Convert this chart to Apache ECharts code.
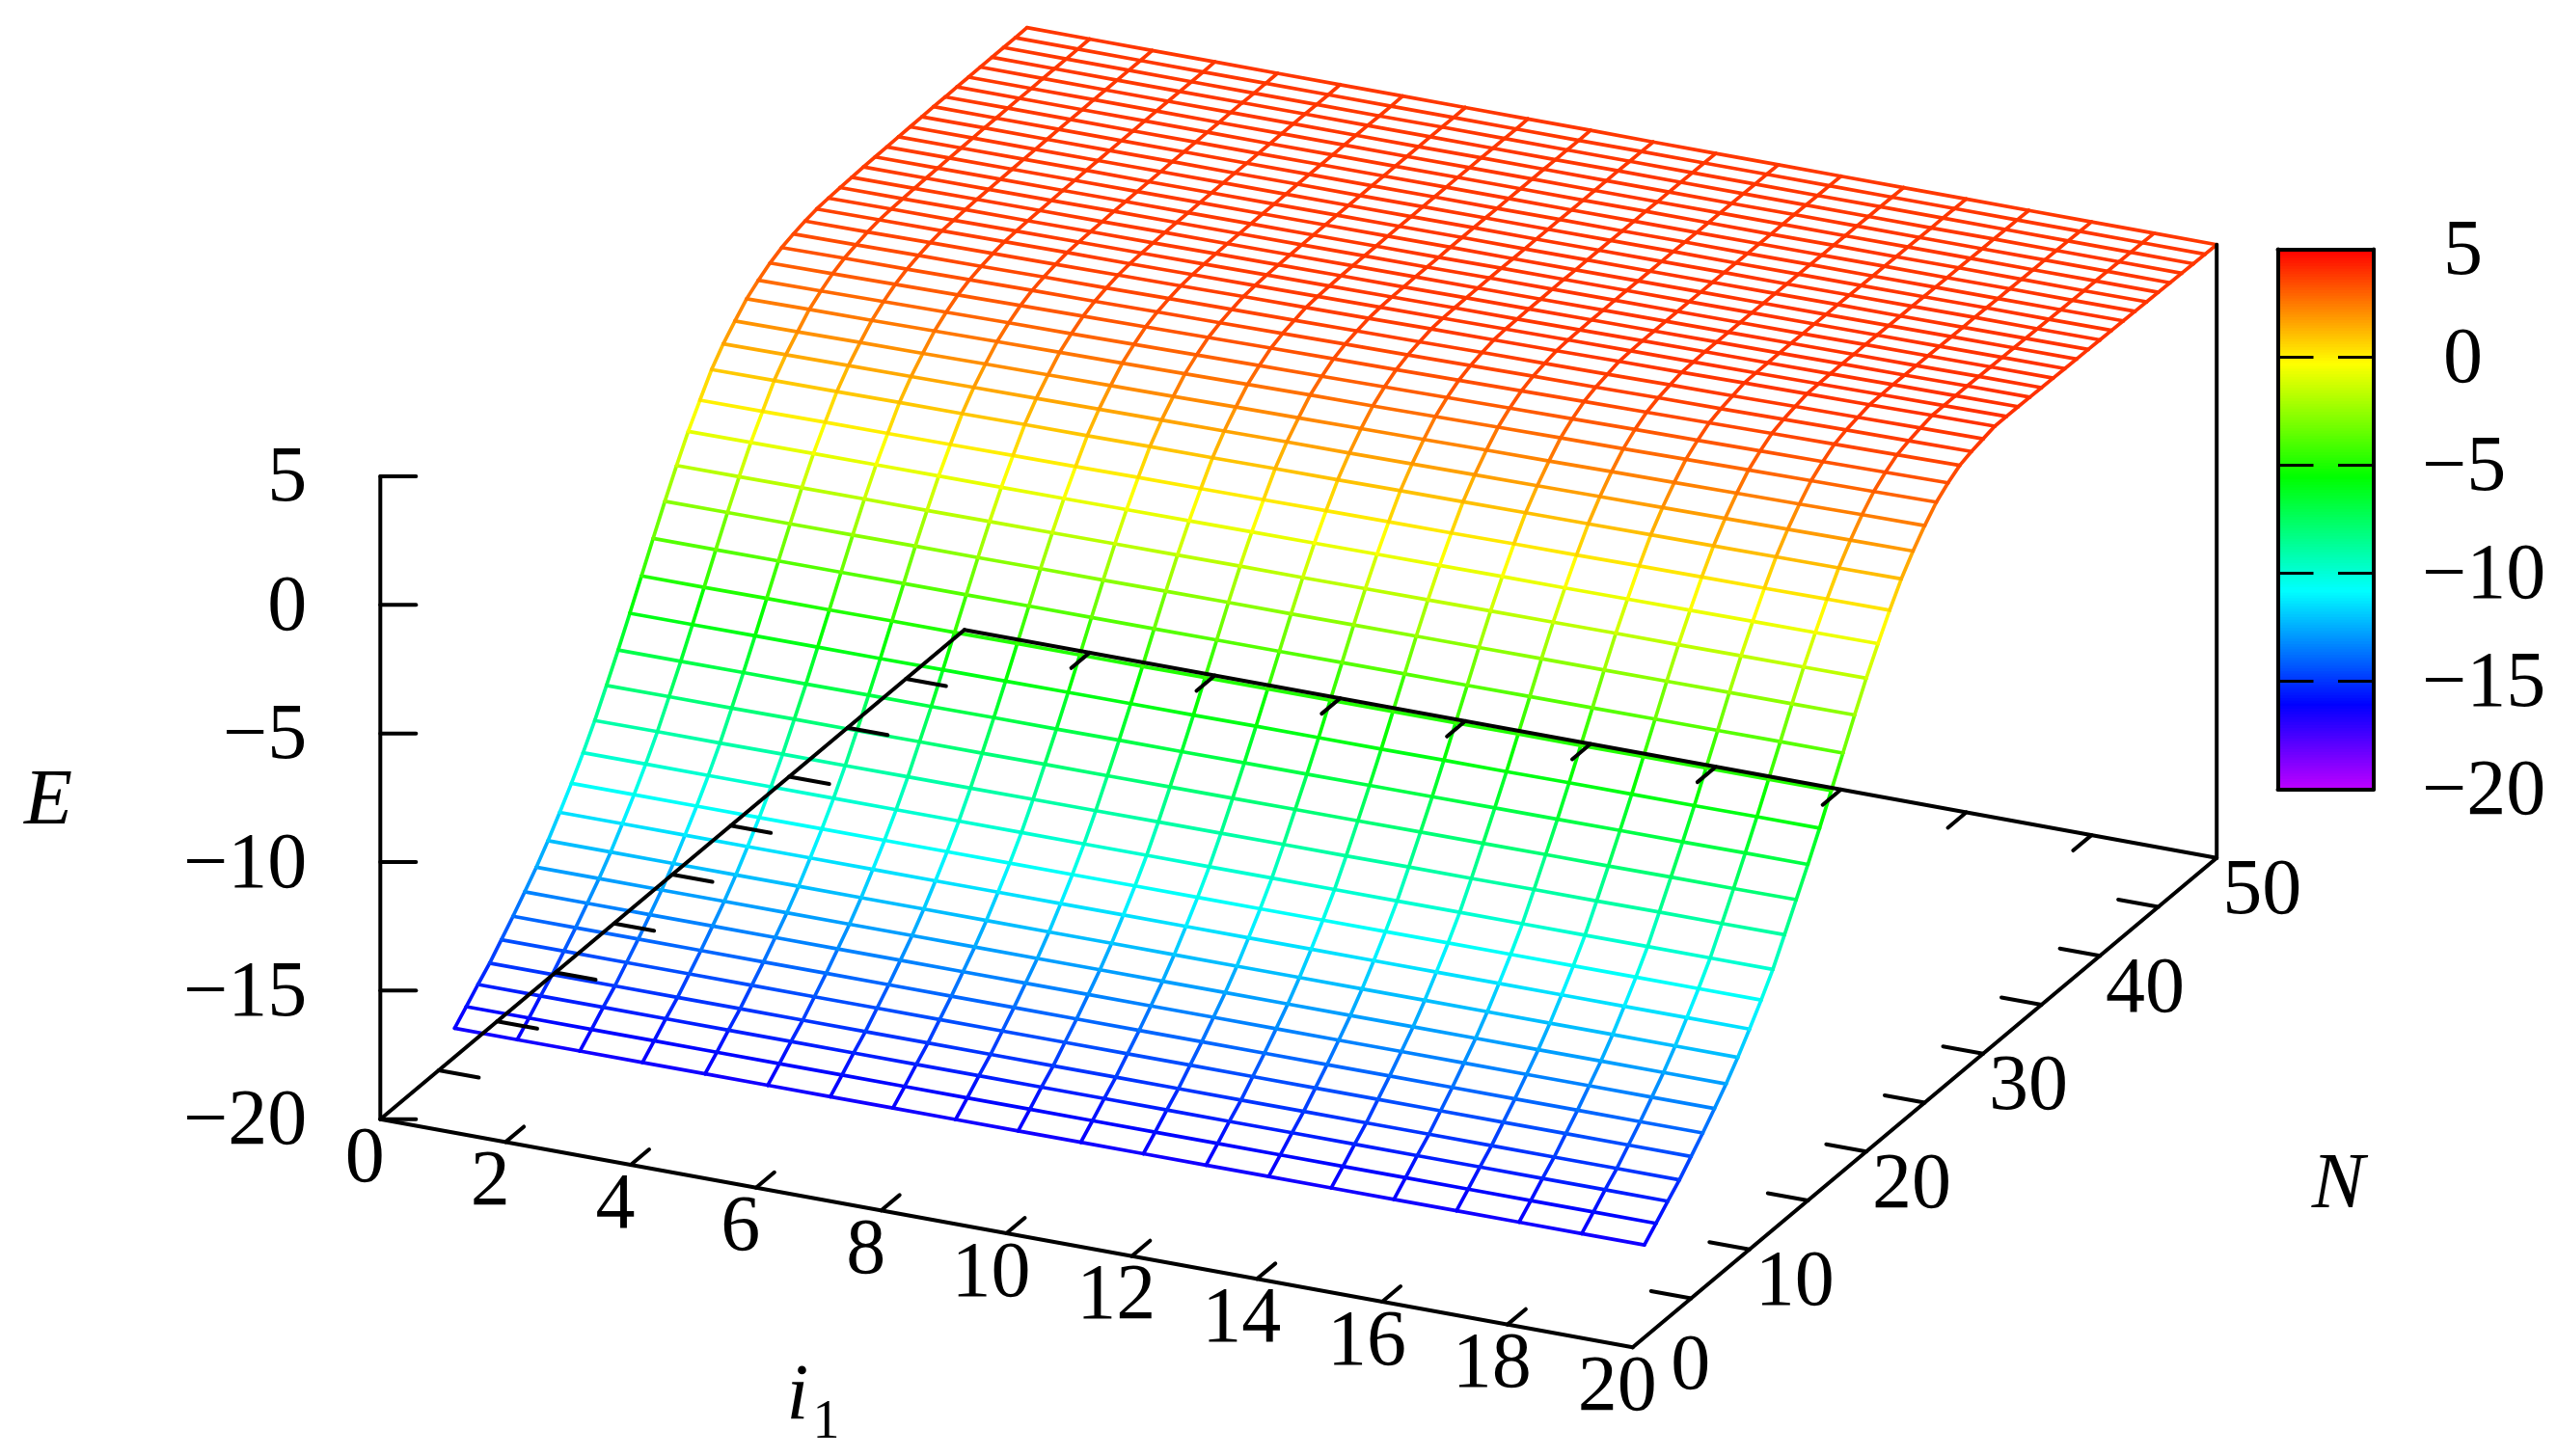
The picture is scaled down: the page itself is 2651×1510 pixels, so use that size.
<!DOCTYPE html>
<html><head><meta charset="utf-8">
<style>html,body{margin:0;padding:0;background:#fff}#c{width:2651px;height:1510px}</style>
<script src="https://cdn.jsdelivr.net/npm/echarts@6/dist/echarts.min.js"></script>
</head><body><div id="c"></div>
<script>
// ---------- values ----------
const iValues = [1,2,3,4,5,6,7,8,9,10,11,12,13,14,15,16,17,18,19,20];
const nValues = [1,2,3,4,5,6,7,8,9,10,11,12,13,14,15,16,17,18,19,20,21,22,23,24,25,26,27,28,29,30,31,32,33,34,35,36,37,38,39,40,41,42,43,44,45,46,47,48,49,50];
// one row per N, one column per i1
const surfaceE = [
[-16.40,-16.40,-16.40,-16.40,-16.40,-16.40,-16.40,-16.40,-16.40,-16.40,-16.40,-16.40,-16.40,-16.40,-16.40,-16.40,-16.40,-16.40,-16.40,-16.40],
[-15.94,-15.94,-15.94,-15.94,-15.94,-15.94,-15.94,-15.94,-15.94,-15.94,-15.94,-15.94,-15.94,-15.94,-15.94,-15.94,-15.94,-15.94,-15.94,-15.94],
[-15.46,-15.46,-15.46,-15.46,-15.46,-15.46,-15.46,-15.46,-15.46,-15.46,-15.46,-15.46,-15.46,-15.46,-15.46,-15.46,-15.46,-15.46,-15.46,-15.46],
[-15.01,-15.01,-15.01,-15.01,-15.01,-15.01,-15.01,-15.01,-15.01,-15.01,-15.01,-15.01,-15.01,-15.01,-15.01,-15.01,-15.01,-15.01,-15.01,-15.01],
[-14.48,-14.48,-14.48,-14.48,-14.48,-14.48,-14.48,-14.48,-14.48,-14.48,-14.48,-14.48,-14.48,-14.48,-14.48,-14.48,-14.48,-14.48,-14.48,-14.48],
[-13.95,-13.95,-13.95,-13.95,-13.95,-13.95,-13.95,-13.95,-13.95,-13.95,-13.95,-13.95,-13.95,-13.95,-13.95,-13.95,-13.95,-13.95,-13.95,-13.95],
[-13.38,-13.38,-13.38,-13.38,-13.38,-13.38,-13.38,-13.38,-13.38,-13.38,-13.38,-13.38,-13.38,-13.38,-13.38,-13.38,-13.38,-13.38,-13.38,-13.38],
[-12.80,-12.80,-12.80,-12.80,-12.80,-12.80,-12.80,-12.80,-12.80,-12.80,-12.80,-12.80,-12.80,-12.80,-12.80,-12.80,-12.80,-12.80,-12.80,-12.80],
[-12.15,-12.15,-12.15,-12.15,-12.15,-12.15,-12.15,-12.15,-12.15,-12.15,-12.15,-12.15,-12.15,-12.15,-12.15,-12.15,-12.15,-12.15,-12.15,-12.15],
[-11.43,-11.43,-11.43,-11.43,-11.43,-11.43,-11.43,-11.43,-11.43,-11.43,-11.43,-11.43,-11.43,-11.43,-11.43,-11.43,-11.43,-11.43,-11.43,-11.43],
[-10.68,-10.68,-10.68,-10.68,-10.68,-10.68,-10.68,-10.68,-10.68,-10.68,-10.68,-10.68,-10.68,-10.68,-10.68,-10.68,-10.68,-10.68,-10.68,-10.68],
[-9.87,-9.87,-9.87,-9.87,-9.87,-9.87,-9.87,-9.87,-9.87,-9.87,-9.87,-9.87,-9.87,-9.87,-9.87,-9.87,-9.87,-9.87,-9.87,-9.87],
[-9.00,-8.99,-8.99,-8.98,-8.98,-8.97,-8.97,-8.96,-8.96,-8.95,-8.95,-8.94,-8.94,-8.93,-8.93,-8.92,-8.92,-8.91,-8.91,-8.90],
[-8.02,-8.01,-8.01,-8.00,-8.00,-7.99,-7.99,-7.98,-7.98,-7.97,-7.97,-7.96,-7.96,-7.95,-7.95,-7.94,-7.94,-7.93,-7.93,-7.92],
[-7.02,-7.02,-7.01,-7.01,-7.00,-7.00,-6.99,-6.99,-6.98,-6.98,-6.97,-6.97,-6.96,-6.96,-6.95,-6.95,-6.94,-6.94,-6.93,-6.93],
[-5.97,-5.97,-5.96,-5.96,-5.96,-5.95,-5.95,-5.94,-5.94,-5.94,-5.93,-5.93,-5.93,-5.92,-5.92,-5.91,-5.91,-5.91,-5.90,-5.90],
[-4.90,-4.90,-4.89,-4.89,-4.88,-4.88,-4.87,-4.87,-4.87,-4.86,-4.86,-4.85,-4.85,-4.85,-4.84,-4.84,-4.83,-4.83,-4.82,-4.82],
[-3.82,-3.82,-3.81,-3.81,-3.80,-3.80,-3.79,-3.79,-3.79,-3.78,-3.78,-3.77,-3.77,-3.77,-3.76,-3.76,-3.75,-3.75,-3.74,-3.74],
[-2.76,-2.75,-2.75,-2.74,-2.73,-2.73,-2.72,-2.72,-2.71,-2.70,-2.70,-2.69,-2.68,-2.68,-2.67,-2.67,-2.66,-2.65,-2.65,-2.64],
[-1.75,-1.74,-1.73,-1.72,-1.72,-1.71,-1.70,-1.69,-1.68,-1.67,-1.67,-1.66,-1.65,-1.64,-1.63,-1.62,-1.62,-1.61,-1.60,-1.59],
[-0.80,-0.79,-0.78,-0.77,-0.76,-0.76,-0.75,-0.74,-0.73,-0.72,-0.71,-0.70,-0.69,-0.68,-0.68,-0.67,-0.66,-0.65,-0.64,-0.63],
[0.03,0.04,0.06,0.07,0.08,0.10,0.11,0.13,0.14,0.15,0.17,0.18,0.19,0.21,0.22,0.24,0.25,0.26,0.28,0.29],
[0.84,0.86,0.87,0.89,0.90,0.92,0.93,0.95,0.96,0.98,0.99,1.01,1.02,1.04,1.05,1.07,1.08,1.10,1.11,1.13],
[1.46,1.48,1.50,1.52,1.54,1.56,1.58,1.60,1.62,1.64,1.65,1.67,1.69,1.71,1.73,1.75,1.77,1.79,1.81,1.83],
[1.97,1.99,2.02,2.04,2.07,2.09,2.12,2.14,2.17,2.19,2.22,2.24,2.27,2.29,2.32,2.34,2.37,2.39,2.42,2.44],
[2.45,2.48,2.50,2.53,2.56,2.59,2.61,2.64,2.67,2.70,2.72,2.75,2.78,2.81,2.83,2.86,2.89,2.92,2.94,2.97],
[2.79,2.82,2.85,2.88,2.91,2.93,2.96,2.99,3.02,3.05,3.08,3.11,3.14,3.17,3.20,3.22,3.25,3.28,3.31,3.34],
[3.08,3.11,3.14,3.17,3.20,3.23,3.26,3.29,3.32,3.35,3.37,3.40,3.43,3.46,3.49,3.52,3.55,3.58,3.61,3.64],
[3.30,3.33,3.35,3.38,3.41,3.43,3.46,3.48,3.51,3.54,3.56,3.59,3.62,3.64,3.67,3.69,3.72,3.75,3.77,3.80],
[3.45,3.47,3.50,3.52,3.55,3.57,3.60,3.62,3.64,3.67,3.69,3.72,3.74,3.76,3.79,3.81,3.84,3.86,3.89,3.91],
[3.57,3.59,3.62,3.64,3.66,3.69,3.71,3.74,3.76,3.78,3.81,3.83,3.85,3.88,3.90,3.93,3.95,3.97,4.00,4.02],
[3.66,3.68,3.70,3.72,3.74,3.75,3.77,3.79,3.81,3.83,3.85,3.87,3.89,3.91,3.92,3.94,3.96,3.98,4.00,4.02],
[3.70,3.72,3.73,3.75,3.77,3.78,3.80,3.82,3.83,3.85,3.87,3.88,3.90,3.92,3.94,3.95,3.97,3.99,4.00,4.02],
[3.73,3.74,3.76,3.77,3.79,3.80,3.82,3.83,3.85,3.86,3.88,3.89,3.91,3.92,3.94,3.95,3.97,3.98,4.00,4.01],
[3.75,3.76,3.78,3.79,3.80,3.82,3.83,3.84,3.86,3.87,3.88,3.89,3.91,3.92,3.93,3.95,3.96,3.97,3.99,4.00],
[3.77,3.78,3.79,3.80,3.82,3.83,3.84,3.85,3.86,3.87,3.89,3.90,3.91,3.92,3.93,3.94,3.96,3.97,3.98,3.99],
[3.78,3.79,3.80,3.81,3.82,3.83,3.84,3.85,3.86,3.87,3.89,3.90,3.91,3.92,3.93,3.94,3.95,3.96,3.97,3.98],
[3.79,3.80,3.81,3.82,3.83,3.84,3.85,3.86,3.87,3.88,3.88,3.89,3.90,3.91,3.92,3.93,3.94,3.95,3.96,3.97],
[3.80,3.81,3.82,3.83,3.83,3.84,3.85,3.86,3.87,3.88,3.88,3.89,3.90,3.91,3.92,3.93,3.93,3.94,3.95,3.96],
[3.81,3.82,3.82,3.83,3.84,3.85,3.85,3.86,3.87,3.88,3.88,3.89,3.90,3.91,3.91,3.92,3.93,3.94,3.94,3.95],
[3.82,3.83,3.83,3.84,3.85,3.85,3.86,3.86,3.87,3.88,3.88,3.89,3.90,3.90,3.91,3.91,3.92,3.93,3.93,3.94],
[3.83,3.83,3.84,3.84,3.85,3.85,3.86,3.86,3.87,3.87,3.88,3.88,3.89,3.89,3.90,3.90,3.91,3.91,3.92,3.93],
[3.83,3.84,3.84,3.84,3.85,3.85,3.86,3.86,3.87,3.87,3.87,3.88,3.88,3.89,3.89,3.90,3.90,3.91,3.91,3.92],
[3.84,3.84,3.84,3.85,3.85,3.85,3.86,3.86,3.87,3.87,3.87,3.88,3.88,3.88,3.89,3.89,3.90,3.90,3.90,3.91],
[3.84,3.84,3.85,3.85,3.85,3.86,3.86,3.86,3.87,3.87,3.87,3.87,3.88,3.88,3.88,3.89,3.89,3.89,3.90,3.90],
[3.85,3.85,3.85,3.85,3.86,3.86,3.86,3.86,3.87,3.87,3.87,3.87,3.87,3.88,3.88,3.88,3.88,3.89,3.89,3.89],
[3.85,3.85,3.85,3.85,3.86,3.86,3.86,3.86,3.86,3.86,3.87,3.87,3.87,3.87,3.87,3.87,3.88,3.88,3.88,3.88],
[3.85,3.85,3.85,3.85,3.85,3.85,3.85,3.86,3.86,3.86,3.86,3.86,3.86,3.86,3.87,3.87,3.87,3.87,3.87,3.87],
[3.85,3.85,3.85,3.85,3.85,3.85,3.85,3.85,3.85,3.85,3.86,3.86,3.86,3.86,3.86,3.86,3.86,3.86,3.86,3.86],
[3.86,3.86,3.86,3.86,3.86,3.86,3.86,3.86,3.86,3.86,3.85,3.85,3.85,3.85,3.85,3.85,3.85,3.85,3.85,3.85]
];
const iTicks = [0,2,4,6,8,10,12,14,16,18,20];
const nTicksLabelled = [0,10,20,30,40,50];
const nTicksAll = [5,10,15,20,25,30,35,40,45];
const eTicks = [-20,-15,-10,-5,0,5];
const paletteStops = ['#bf00ff','#8000ff','#4000ff','#0000ff','#0040ff','#0080ff','#00bfff','#00ffff','#00ffbf','#00ff80','#00ff40','#00ff00','#40ff00','#80ff00','#bfff00','#ffff00','#ffbf00','#ff8000','#ff4000','#ff0000'];
const eRange = [-20, 5];

// ---------- view of the 3D box on the page plane ----------
const view = {ox:394.3, oy:1160.7, ix:64.92, iy:11.83, nx:12.11, ny:-10.15, ez:26.67};
function project(i, n, e) {
  return [view.ox + view.ix*i + view.nx*n, view.oy + view.iy*i + view.ny*n - view.ez*(e - eRange[0])];
}
const FONT = '"Liberation Serif","Times New Roman",serif';
const FS = 82;
const TEXT_DY = 4;
const minus = v => String(v).replace('-', '\u2212');

// surface wires: [x1,y1,E,x2,y2]
const wires = [];
function wire(i1,n1,e1,i2,n2,e2){
  const a = project(i1,n1,e1), b = project(i2,n2,e2);
  wires.push([a[0],a[1],(e1+e2)/2,b[0],b[1]]);
}
nValues.forEach((n,r)=>iValues.forEach((i,c)=>{
  if (c+1<iValues.length) wire(i,n,surfaceE[r][c],iValues[c+1],n,surfaceE[r][c+1]);
  if (r+1<nValues.length) wire(i,n,surfaceE[r][c],i,nValues[r+1],surfaceE[r+1][c]);
}));

// box edges and ticks: [x1,y1,x2,y2]
const boxLines = [];
function seg(a,b){ boxLines.push([a[0],a[1],b[0],b[1]]); }
const lo = eRange[0], hi = eRange[1];
seg(project(0,0,lo),project(20,0,lo));
seg(project(20,0,lo),project(20,50,lo));
seg(project(20,50,lo),project(0,50,lo));
seg(project(0,50,lo),project(0,0,lo));
seg(project(0,0,lo),project(0,0,hi));
seg(project(20,50,lo),project(20,50,surfaceE[49][19]));
const NTICK = 1.57, ITICK = 0.64, ETICK = 37;
iTicks.slice(1,-1).forEach(i=>{
  seg(project(i,0,lo),project(i,NTICK,lo));
  seg(project(i,50,lo),project(i,50-NTICK,lo));
});
nTicksAll.forEach(n=>{
  seg(project(0,n,lo),project(ITICK,n,lo));
  seg(project(20,n,lo),project(20-ITICK,n,lo));
});
eTicks.forEach(e=>{
  const p = project(0,0,e);
  seg(p,[p[0]+ETICK,p[1]]);
});

// text labels placed on the plane
const labels = [];
iTicks.forEach(i=>{
  const p = project(i,0,lo);
  labels.push({t:String(i),x:p[0]-16,y:p[1]+39,a:'center'});
});
nTicksLabelled.forEach(n=>{
  const p = project(20,n,lo);
  if (n===0) labels.push({t:'0',x:p[0]+60,y:p[1]+17,a:'center'});
  else labels.push({t:String(n),x:p[0]+47,y:p[1]+32,a:'center'});
});
eTicks.forEach(e=>{
  const p = project(0,0,e);
  labels.push({t:minus(e),x:p[0]-76,y:p[1],a:'right'});
});
labels.push({t:'E',x:50,y:828,a:'center',it:true});
labels.push({t:'N',x:2424,y:1226,a:'center',it:true});
labels.push({t:'{i|i}{s|1}',x:843,y:1445,a:'center',rich:{
  i:{fontFamily:FONT,fontStyle:'italic',fontSize:FS,fill:'#000',lineHeight:100,verticalAlign:'middle'},
  s:{fontFamily:FONT,fontSize:56,fill:'#000',lineHeight:100,padding:[54,0,0,4],verticalAlign:'middle'}}});

// colour bar ramp: [0, level, level]
const ramp = [];
for (let k=0;k<200;k++){ const v = eRange[0]+k*0.125; ramp.push([0,v,v+0.0625]); }

const bar = {left:2361.5, top:258.5, width:99.5, height:560};
const barAxis = {type:'value',min:eRange[0],max:eRange[1],interval:5,gridIndex:1,z:6,
  axisLine:{show:true,onZero:false,lineStyle:{color:'#000',width:4}},
  splitLine:{show:false}};

const option = {
  backgroundColor:'#fff',
  animation:false,
  grid:[
    {left:0,top:0,width:2651,height:1510,containLabel:false},
    {left:bar.left,top:bar.top,width:bar.width,height:bar.height,containLabel:false}
  ],
  xAxis:[
    {type:'value',min:0,max:2651,gridIndex:0,show:false},
    {type:'value',min:0,max:1,gridIndex:1,position:'bottom',z:6,axisLine:{show:true,onZero:false,lineStyle:{color:'#000',width:4}},axisTick:{show:false},axisLabel:{show:false},splitLine:{show:false}},
    {type:'value',min:0,max:1,gridIndex:1,position:'top',z:6,axisLine:{show:true,onZero:false,lineStyle:{color:'#000',width:4}},axisTick:{show:false},axisLabel:{show:false},splitLine:{show:false}}
  ],
  yAxis:[
    {type:'value',min:0,max:1510,inverse:true,gridIndex:0,show:false},
    Object.assign({},barAxis,{position:'left',axisTick:{show:true,inside:true,length:37,lineStyle:{color:'#000',width:3.2}},axisLabel:{show:false}}),
    Object.assign({},barAxis,{position:'right',axisTick:{show:true,inside:true,length:37,lineStyle:{color:'#000',width:3.2}},
      axisLabel:{show:true,inside:false,margin:50,align:'left',color:'#000',fontFamily:FONT,fontSize:FS,padding:[TEXT_DY*2,0,0,0],
        formatter:v=> v>=0 ? '{p|'+v+'}' : minus(v),
        rich:{p:{fontFamily:FONT,fontSize:FS,color:'#000',padding:[0,0,0,22]}}}})
  ],
  visualMap:[{show:false,type:'continuous',min:eRange[0],max:eRange[1],dimension:2,seriesIndex:[0,2],inRange:{color:paletteStops}}],
  series:[
    {name:'E surface',type:'custom',coordinateSystem:'cartesian2d',xAxisIndex:0,yAxisIndex:0,clip:false,silent:true,z:2,
     data:wires,
     renderItem:(p,api)=>{
       const a=api.coord([api.value(0),api.value(1)]), b=api.coord([api.value(3),api.value(4)]);
       return {type:'line',shape:{x1:a[0],y1:a[1],x2:b[0],y2:b[1]},
         style:{stroke:api.visual('color'),lineWidth:3.7,lineCap:'round',fill:null}};
     }},
    {name:'box',type:'custom',coordinateSystem:'cartesian2d',xAxisIndex:0,yAxisIndex:0,clip:false,silent:true,z:3,
     data:boxLines,
     renderItem:(p,api)=>{
       const a=api.coord([api.value(0),api.value(1)]), b=api.coord([api.value(2),api.value(3)]);
       return {type:'line',shape:{x1:a[0],y1:a[1],x2:b[0],y2:b[1]},
         style:{stroke:'#000',lineWidth:4,lineCap:'round',fill:null}};
     }},
    {name:'colour bar',type:'custom',coordinateSystem:'cartesian2d',xAxisIndex:1,yAxisIndex:1,silent:true,z:2,
     data:ramp,
     renderItem:(p,api)=>{
       const lev=api.value(1);
       const a=api.coord([0,lev+0.125]), b=api.coord([1,lev]);
       return {type:'rect',shape:{x:a[0],y:a[1],width:b[0]-a[0],height:b[1]-a[1]+0.6},
         style:{fill:api.visual('color'),stroke:null}};
     }},
    {name:'labels',type:'custom',coordinateSystem:'cartesian2d',xAxisIndex:0,yAxisIndex:0,clip:false,silent:true,z:4,
     data:labels.map(l=>[l.x,l.y]),
     renderItem:(p,api)=>{
       const l=labels[p.dataIndex], c=api.coord([api.value(0),api.value(1)]);
       return {type:'text',style:{x:c[0],y:c[1]+TEXT_DY,text:l.t,align:l.a,verticalAlign:'middle',fill:'#000',
         fontFamily:FONT,fontSize:FS,fontStyle:l.it?'italic':'normal',rich:l.rich}};
     }}
  ]
};
const chart = echarts.init(document.getElementById('c'),null,{width:2651,height:1510,renderer:'canvas'});
chart.setOption(option);
</script></body></html>
